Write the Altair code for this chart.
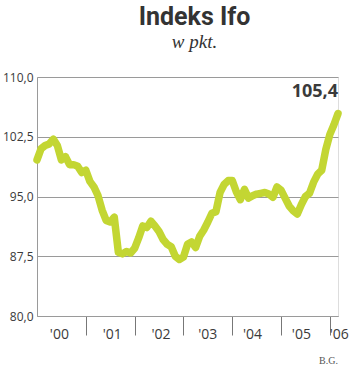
import altair as alt
import pandas as pd

# Ifo index, monthly Jan 2000 .. Mar 2006 (month index 0..74)
values = [
    99.6, 101.0, 101.4, 101.6, 102.2, 101.4, 99.6, 100.0, 99.0, 99.0, 98.8, 98.0,
    98.3, 96.9, 96.2, 95.1, 93.3, 92.0, 91.8, 92.4, 88.0, 87.8, 88.1, 87.9,
    88.5, 89.8, 91.3, 91.1, 91.9, 91.3, 90.6, 89.6, 89.0, 88.7, 87.5, 87.1,
    87.4, 89.0, 89.3, 88.6, 90.0, 90.8, 91.8, 92.9, 93.1, 95.5, 96.5, 97.0,
    97.0, 95.6, 94.6, 95.9, 94.8, 95.1, 95.3, 95.4, 95.5, 95.3, 94.9, 96.2,
    95.8, 94.8, 93.8, 93.2, 92.8, 94.0, 95.0, 95.4, 96.8, 97.8, 98.3, 100.9,
    102.8, 104.0, 105.4,
]
months = list(range(len(values)))

year_labels = ["'00", "'01", "'02", "'03", "'04", "'05", "'06"]
year_label_pos = [5.5, 18.5, 30.5, 42, 53, 65, 74.3]
year_ticks = [12, 24, 36, 48, 60, 72]
y_ticks = [80, 87.5, 95, 102.5, 110]

W, H = 301, 239
GREY = "#9a9a9a"
TXT = "#3a3a3a"

df = pd.DataFrame({"m": months, "v": values})
last = df.tail(1).assign(lbl=lambda d: d["v"].map(lambda x: f"{x:.1f}".replace(".", ",")))
yl = pd.DataFrame({"m": year_label_pos, "t": year_labels})

xs = alt.Scale(domain=[0, 74], nice=False, zero=False)
ys = alt.Scale(domain=[80, 110], nice=False, zero=False)

line = alt.Chart(df).mark_line(
    color="#c3d633", strokeWidth=7.5, strokeCap="round", strokeJoin="round"
).encode(
    x=alt.X("m:Q", scale=xs, axis=alt.Axis(
        values=year_ticks, labels=False, tickSize=19, tickColor="#777",
        domainColor=GREY, grid=False, title=None)),
    y=alt.Y("v:Q", scale=ys, axis=alt.Axis(
        values=y_ticks, labelExpr="replace(format(datum.value,'.1f'),'.',',')",
        grid=True, gridColor=GREY, tickSize=0, domainColor=GREY,
        labelPadding=4, labelFont="Open Sans", labelFontSize=12,
        labelColor=TXT, title=None)),
)

ann = alt.Chart(last).mark_text(
    align="right", baseline="alphabetic", dy=-17, dx=0,
    font="Open Sans", fontSize=18, fontWeight="bold", color=TXT
).encode(x=alt.X("m:Q", scale=xs), y=alt.Y("v:Q", scale=ys), text="lbl:N")

years = alt.Chart(yl).mark_text(
    baseline="middle", font="Open Sans", fontSize=14, color=TXT
).encode(x=alt.X("m:Q", scale=xs), y=alt.value(H + 19), text="t:N")

credit = alt.Chart(pd.DataFrame({"t": ["B.G."]})).mark_text(
    align="right", baseline="alphabetic", font="Liberation Serif",
    fontSize=10, color="#555"
).encode(x=alt.value(W), y=alt.value(H + 48), text="t:N")

chart = alt.layer(line, ann, years, credit).properties(
    width=W, height=H,
    autosize=alt.AutoSizeParams(type="none"),
    padding={"left": 37, "top": 77, "right": 12, "bottom": 52},
    title=alt.TitleParams(
        text="Indeks Ifo", subtitle="w pkt.", anchor="middle", dx=7,
        offset=19, font="Roboto", fontSize=25, fontWeight="bold", color="#333",
        subtitleFont="Liberation Serif", subtitleFontStyle="italic",
        subtitleFontSize=19, subtitleColor="#333", subtitlePadding=3),
).configure_view(stroke=GREY).configure(background="white")

chart.save("out.html", embed_options={"renderer": "svg", "actions": False})
